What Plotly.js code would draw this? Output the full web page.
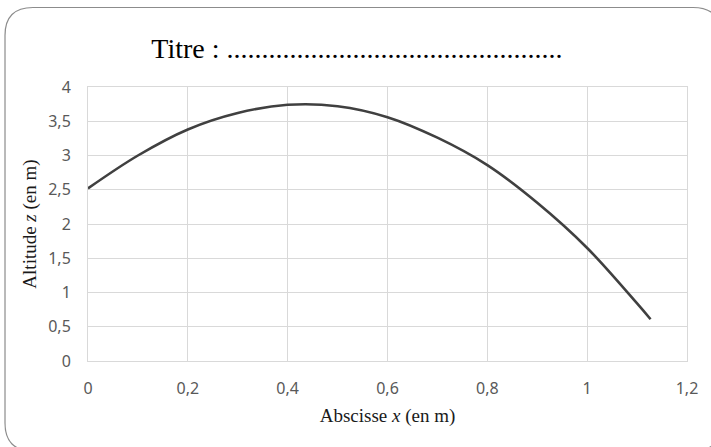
<!DOCTYPE html>
<html>
<head>
<meta charset="utf-8">
<script src="https://cdn.plot.ly/plotly-3.0.1.min.js"></script>
<style>
html,body{margin:0;padding:0;background:#fff;}
#chart{width:711px;height:447px;}
</style>
</head>
<body>
<div id="chart"></div>
<script>
// Data
const abscisse = [0, 0.1, 0.2, 0.3, 0.4, 0.5, 0.6, 0.7, 0.8, 0.9, 1.0, 1.1, 1.127];
const altitude = [2.52, 3.0, 3.38, 3.62, 3.74, 3.72, 3.56, 3.26, 2.86, 2.31, 1.65, 0.84, 0.61];
const xTickVals = [0, 0.2, 0.4, 0.6, 0.8, 1, 1.2];
const xTickText = ["0", "0,2", "0,4", "0,6", "0,8", "1", "1,2"];
const yTickVals = [0, 0.5, 1, 1.5, 2, 2.5, 3, 3.5, 4];
const yTickText = ["0", "0,5", "1", "1,5", "2", "2,5", "3", "3,5", "4"];
const titleText = "Titre : " + ".".repeat(48);

const W = 711, H = 447;
const M = {l: 88, r: 24, t: 87, b: 86};
const pw = W - M.l - M.r, ph = H - M.t - M.b;
function px(x) { return ((x - M.l) / pw).toFixed(5); }
function py(y) { return (1 - (y - M.t) / ph).toFixed(5); }
function pt(x, y) { return px(x) + "," + py(y); }

// rounded outer frame (partly cut by the picture edges, as in the reference)
const bx0 = 5, by0 = 7.5, bx1 = 721, by1 = 451, rad = 28;
const framePath =
  "M" + pt(bx0 + rad, by0) +
  " L" + pt(bx1 - rad, by0) +
  " Q" + pt(bx1, by0) + " " + pt(bx1, by0 + rad) +
  " L" + pt(bx1, by1 - rad) +
  " Q" + pt(bx1, by1) + " " + pt(bx1 - rad, by1) +
  " L" + pt(bx0 + rad, by1) +
  " Q" + pt(bx0, by1) + " " + pt(bx0, by1 - rad) +
  " L" + pt(bx0, by0 + rad) +
  " Q" + pt(bx0, by0) + " " + pt(bx0 + rad, by0) + " Z";

const trace = {
  x: abscisse,
  y: altitude,
  type: "scatter",
  mode: "lines",
  line: {color: "#404040", width: 2.6, shape: "spline", smoothing: 1},
  hoverinfo: "x+y"
};

const serif = "Liberation Serif, Times New Roman, serif";
const sans = "Noto Sans, Liberation Sans, sans-serif";

const layout = {
  width: W, height: H,
  margin: M,
  paper_bgcolor: "#ffffff",
  plot_bgcolor: "#ffffff",
  showlegend: false,
  title: {
    text: titleText,
    font: {family: serif, size: 28, color: "#000000"},
    xref: "container", x: 0.502, xanchor: "center",
    yref: "container", y: 1 - 48 / H, yanchor: "middle"
  },
  xaxis: {
    range: [0, 1.2],
    tickmode: "array", tickvals: xTickVals, ticktext: xTickText,
    showgrid: true, gridcolor: "#d9d9d9", gridwidth: 1,
    zeroline: false,
    showline: true, linecolor: "#d9d9d9", linewidth: 1, mirror: true,
    ticks: "", ticklabelstandoff: 13,
    tickfont: {family: sans, size: 16, color: "#595959"},
    title: {text: "Abscisse <i>x</i> (en m)", font: {family: serif, size: 19, color: "#1a1a1a"}, standoff: 10},
    automargin: false, fixedrange: true
  },
  yaxis: {
    range: [0, 4],
    tickmode: "array", tickvals: yTickVals, ticktext: yTickText,
    showgrid: true, gridcolor: "#d9d9d9", gridwidth: 1,
    zeroline: false,
    showline: true, linecolor: "#d9d9d9", linewidth: 1, mirror: true,
    ticks: "", ticklabelstandoff: 13,
    tickfont: {family: sans, size: 16, color: "#595959"},
    title: {text: "Altitude <i>z</i> (en m)", font: {family: serif, size: 19, color: "#1a1a1a"}, standoff: 6},
    automargin: false, fixedrange: true
  },
  shapes: [{
    type: "path", xref: "paper", yref: "paper", layer: "below",
    path: framePath,
    line: {color: "#8c8c8c", width: 1.2}, fillcolor: "rgba(0,0,0,0)"
  }]
};

Plotly.newPlot("chart", [trace], layout, {displayModeBar: false, staticPlot: true});
</script>
</body>
</html>
